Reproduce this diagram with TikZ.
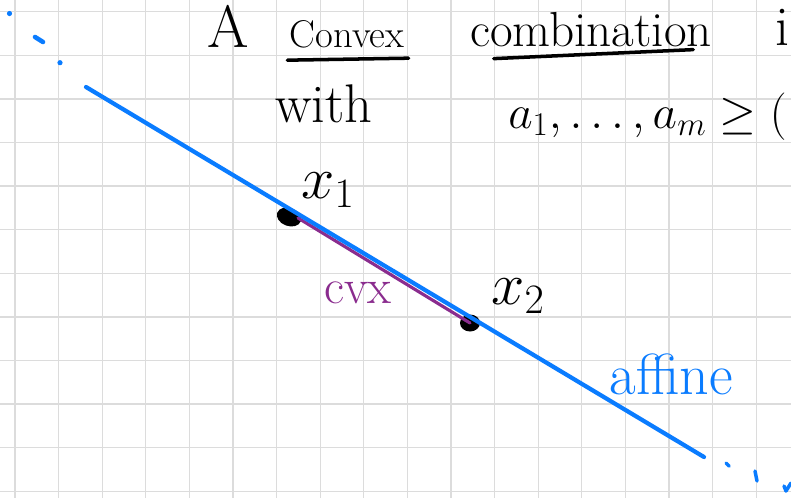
\RequirePackage{fix-cm}
\documentclass[tikz,border=0pt]{standalone}
\usepackage{amsmath}
\usetikzlibrary{shapes.geometric}
\definecolor{inkblue}{HTML}{0A7CFF}
\definecolor{inkpurple}{HTML}{8A2C8E}
\definecolor{gridgray}{HTML}{DCDCDC}
\tikzset{
  gridline/.style={draw=gridgray, line width=0.7pt},
  hand/.style={inner sep=0pt, font=\fontsize{#1}{#1}\selectfont},
  hand/.default=22pt,
  ink/.style={line width=#1, line cap=round, line join=round},
  ink/.default=1.8pt,
  blob/.style={ellipse, fill=black, inner sep=0pt},
}

\begin{document}
\begin{tikzpicture}[x=0.02cm, y=-0.02cm]
  \useasboundingbox[fill=white] (0,0) rectangle (791,498);
  % grid paper
  \foreach \k in {0,...,17}
    \draw[gridline] ({15+43.6*\k},0) -- ({15+43.6*\k},498);
  \foreach \k in {0,...,11}
    \draw[gridline] (0,{11.7+43.6*\k}) -- (791,{11.7+43.6*\k});

  % heading
  \node[hand=34pt] (art) at (228,26) {A};
  \node[hand=22pt] (cvxword) at (347,34) {Convex};
  \node[hand=28pt] (comb) at (591,30) {combination};
  \node[hand=32pt, anchor=east] (isword) at (790,27) {i};
  \draw[ink=2pt] ([shift={(-2,12)}]cvxword.south west) -- ([shift={(4,10)}]cvxword.south east);
  \draw[ink=2pt] ([shift={(24,11)}]comb.south west) -- ([shift={(-19,2)}]comb.south east);
  \node[hand=31pt] (with) at (324,104) {with};
  \node[hand=27pt, anchor=base west] (coef) at (508,128) {$a_1,\ldots,a_m \geq ($};

  % points and segments
  \coordinate (affA) at (86,87);
  \coordinate (affB) at (704,457);
  \node[blob, minimum width=0.5cm, minimum height=0.36cm, rotate=-20] (x1) at (289,217) {};
  \node[blob, minimum width=0.4cm, minimum height=0.34cm] (x2) at (470,323) {};
  \draw[ink=1.8pt, inkpurple] (298,218) coordinate (p1) -- (x2.center);
  \draw[ink=2.4pt, inkblue] (affA) -- (affB);
  \node[hand=34pt] (x1lbl) at (328,190) {$x_1$};
  \node[hand=34pt] (x2lbl) at (518,296) {$x_2$};
  \node[hand=28pt, text=inkpurple] (cvxlbl) at (358,293) {cvx};
  \node[hand=33pt, text=inkblue] (afflbl) at (671,374) {affine};

  % dots that carry the line on
  \fill[inkblue] (9.5,13.5) circle (2.6);
  \draw[ink=2.6pt, inkblue] (35,37) -- (43,42);
  \fill[inkblue] (60,62.7) circle (2.6);
  \draw[ink=2pt, inkblue] (726,463) -- (729,466);
  \draw[ink=2pt, inkblue] (755,471) -- (757,481);
  \draw[ink=2pt, inkblue] (784,486) -- (786,491) -- (791,483);
\end{tikzpicture}
\end{document}
